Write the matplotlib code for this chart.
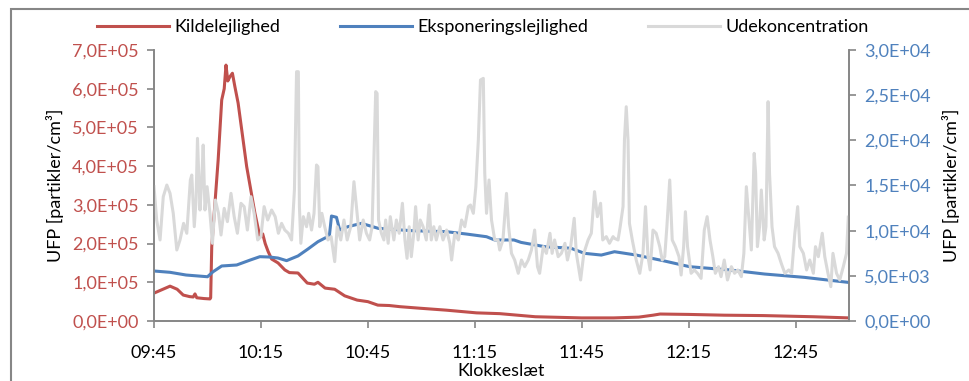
import matplotlib
matplotlib.use("Agg")
from matplotlib import pyplot as plt
from matplotlib.patches import Rectangle
from matplotlib.ticker import FuncFormatter

# minutes after 09:45
red_t = [0, 2, 4.5, 6.5, 8.2, 10, 11, 11.5, 12, 14, 15.7, 15.9, 16.2, 18, 19, 19.7, 20.2, 20.7,
         21.3, 22, 22.7, 23.6, 26, 28.3, 29.7, 30.5, 31.2, 32, 33, 34.8, 36.7, 38, 40.4, 43, 45,
         46, 48, 50.7, 53.5, 57, 60, 62.8, 66, 69, 74.6, 82, 90.5, 97, 107, 120, 129, 136, 140,
         142, 150, 160, 171, 185, 195]
red_v = [72000, 80000, 90000, 82000, 67000, 63000, 62000, 70000, 60000, 58000, 57000, 60000,
         192000, 416000, 571000, 600000, 661000, 620000, 631000, 640000, 605000, 563000, 399000,
         279000, 218000, 225000, 200000, 180000, 160000, 150000, 132000, 125000, 124000, 98000,
         95000, 100000, 85000, 82000, 65000, 54000, 50000, 41000, 40000, 37000, 33000, 28000,
         21000, 19000, 11000, 8000, 8000, 10000, 15000, 18000, 17000, 15000, 14000, 11000, 8000]

blue_t = [0, 4.5, 9, 15, 16.6, 19, 23.2, 27, 29.7, 32.5, 34.8, 37.2, 40.4, 43.2, 46, 48, 49.2,
          49.8, 51.2, 52.1, 54.4, 58.2, 62.9, 72.2, 82, 87.6, 93.3, 95.6, 101, 103, 109.6, 117,
          120.8, 125.5, 129.2, 135.3, 142.8, 150.3, 161.5, 171.3, 182.5, 194.7]
blue_v = [5535, 5390, 5090, 4900, 5460, 6090, 6200, 6750, 7120, 7080, 6970, 6680, 7200, 7970,
          8780, 9190, 9400, 11620, 11480, 10070, 10440, 10810, 10260, 10000, 9890, 9630, 9330,
          8970, 8970, 8700, 8230, 8050, 7490, 7300, 7670, 7300, 6680, 6010, 5650, 5200, 4830, 4280]

grey_t = [0, 0.75, 1.7, 2.6, 3.6, 4.5, 5.4, 6.4, 7.3, 8.3, 9.2, 10.2, 10.6, 11.3, 11.8, 12.2,
          12.9, 13.4, 13.8, 14.3, 14.9, 15.7, 16.4, 17.2, 18.1, 18.8, 19.7, 20.6, 21.6, 22.5,
          23.4, 24.4, 25.3, 26.2, 27.2, 28.1, 29.1, 30.0, 30.9, 31.9, 33, 34, 34.9, 35.8, 36.7,
          37.7, 38.6, 39.4, 40, 40.5, 40.8, 41.2, 41.9, 42.8, 43.4, 44.2, 44.9, 45.6, 46, 46.5,
          47.1, 47.9, 48.8, 49.7, 50.7, 51.4, 52.4, 53.3, 54.2, 55.2, 56.1, 56.8, 57.7, 58.7,
          59.6, 60.5, 61.2, 62.2, 62.6, 63, 63.8, 64.5, 65.0, 65.7, 66.3, 67.3, 68, 68.8, 69.7,
          70.4, 71, 71.6, 72.2, 72.9, 73.4, 74.1, 74.7, 75.5, 76.4, 77.2, 77.8, 78.5, 79.2, 80.2,
          81.1, 82.1, 83, 83.5, 84.4, 85.4, 86.3, 87.2, 88.2, 88.8, 89.6, 90.3, 91, 91.6, 92.4,
          92.8, 93.3, 94, 94.7, 95.6, 96.5, 97, 97.9, 98.9, 99.5, 100.3, 101.2, 102.2, 103.1,
          104, 105, 105.9, 106.8, 107.6, 108.2, 109.2, 110.1, 111.1, 111.7, 112.4, 113.4, 114.3,
          115.3, 116, 116.9, 117.9, 118.5, 119.7, 120.6, 121.8, 122.7, 123.6, 124.4, 125.3,
          125.9, 126.9, 127.8, 128.8, 129.2, 130.2, 130.8, 131.6, 132, 132.5, 133, 133.4, 134.2,
          135.3, 136.3, 137.2, 137.9, 138.6, 139.2, 140, 140.9, 141.9, 142.6, 143.3, 143.9,
          144.7, 145.4, 146.3, 147.3, 147.9, 148.6, 149.1, 149.7, 150.7, 151.6, 152.5, 153.5,
          154.4, 155.2, 156, 156.8, 157.5, 158.4, 159.1, 160, 160.9, 162, 162.9, 163.8, 164.8,
          165.5, 166.2, 166.8, 167.6, 168.4, 168.8, 169.3, 169.9, 170.4, 171.2, 171.7, 172.3,
          172.7, 173.4, 174.1, 175.1, 176, 177, 178.1, 178.9, 179.8, 180.6, 181.2, 182.2, 183.1,
          184, 185, 185.6, 186.4, 187.5, 188.2, 189.1, 189.9, 190.5, 191.5, 192.4, 193.4, 194.3,
          194.8]
grey_v = [14870, 11180, 8970, 13760, 15050, 14130, 11920, 7860, 8970, 10810, 9710, 15610, 16160,
          10440, 13390, 20220, 12290, 15610, 19480, 12290, 14870, 11920, 8600, 13390, 11920, 9520,
          12470, 11000, 14130, 11550, 9710, 13030, 12660, 10070, 13760, 11920, 8970, 9340, 12660,
          11180, 12290, 11550, 9710, 10810, 10070, 9710, 8970, 14500, 27600, 27600, 12660, 8600,
          11550, 10440, 11920, 10070, 11920, 17270, 17080, 10440, 11920, 10440, 8970, 9340, 6570,
          10440, 8970, 11180, 8970, 10440, 15420, 12660, 8970, 11180, 9710, 8970, 10440, 25390,
          25200, 11180, 9710, 8970, 11180, 8600, 11550, 8970, 11180, 9710, 13030, 8970, 6940,
          10440, 7120, 9710, 12660, 8970, 11180, 10440, 8970, 12840, 8970, 10440, 8970, 10440,
          8970, 10070, 8600, 6750, 9710, 8970, 11180, 10440, 12660, 12840, 11920, 14870, 20040,
          26680, 26860, 16350, 11920, 15610, 11180, 8970, 9000, 7860, 8970, 14130, 10440, 7490,
          6750, 5280, 6750, 6010, 6750, 7860, 10070, 6010, 5280, 8230, 7490, 9710, 7490, 8970,
          7120, 7490, 8600, 6750, 8230, 11370, 7490, 4540, 7490, 8970, 9710, 14320, 11550, 13030,
          8970, 9340, 8600, 9340, 9150, 8970, 10440, 12660, 20040, 23720, 20040, 10810, 8970,
          6750, 5280, 7490, 12660, 7120, 5650, 10070, 9710, 8230, 6750, 7120, 10440, 15610, 8970,
          8230, 7120, 5090, 8230, 12100, 8230, 5280, 5650, 5280, 4720, 10070, 11550, 8970, 7120,
          5280, 6010, 4910, 6750, 4540, 6010, 5280, 5650, 4910, 7490, 14870, 11920, 7860, 18560,
          16350, 8230, 10440, 14500, 8970, 10440, 24280, 16350, 10440, 8230, 7490, 6380, 5280,
          5650, 5280, 9710, 12660, 8230, 7490, 5650, 6750, 5280, 8230, 7120, 9710, 7120, 5280,
          3800, 7490, 5280, 4540, 6010, 7490, 11500]

tick_pos = [0, 30, 60, 90, 120, 150, 180]
tick_lab = ["09:45", "10:15", "10:45", "11:15", "11:45", "12:15", "12:45"]
left_ticks = [0, 1e5, 2e5, 3e5, 4e5, 5e5, 6e5, 7e5]
right_ticks = [0, 5e3, 1e4, 1.5e4, 2e4, 2.5e4, 3e4]

RED = "#C0504D"
BLUE = "#4F81BD"
GREY = "#D9D9D9"
AXC = "#868686"

plt.rcParams['font.family'] = ['Lato', 'DejaVu Sans']
plt.rcParams['font.size'] = 13

fig = plt.figure(figsize=(9.69, 3.81), dpi=100)
ax = fig.add_axes([154/969, 1 - 321/381, (849-154)/969, (321-50)/381])
ax2 = ax.twinx()

def sci(v, pos):
    return ("%.1E" % v).replace(".", ",")

l1, = ax.plot(red_t, red_v, color=RED, lw=2.2, label="Kildelejlighed")
l2, = ax2.plot(blue_t, blue_v, color=BLUE, lw=2.2, label="Eksponeringslejlighed")
l3, = ax2.plot(grey_t, grey_v, color=GREY, lw=2.2, label="Udekoncentration")

ax.set_xlim(0, 195)
ax.set_ylim(0, 7e5)
ax2.set_ylim(0, 3e4)
ax.set_xticks(tick_pos)
ax.set_xticklabels(tick_lab)
ax.set_yticks(left_ticks)
ax2.set_yticks(right_ticks)
ax.yaxis.set_major_formatter(FuncFormatter(sci))
ax2.yaxis.set_major_formatter(FuncFormatter(sci))

for a in (ax, ax2):
    a.spines['top'].set_visible(False)
    for s in ('left', 'right', 'bottom'):
        a.spines[s].set_color(AXC)
        a.spines[s].set_linewidth(1.2)
    a.tick_params(direction='out', length=5, width=1.2, color=AXC, pad=6)
ax.tick_params(axis='y', labelcolor=RED)
ax2.tick_params(axis='y', labelcolor=BLUE)
ax.tick_params(axis='x', pad=12)

ax.set_ylabel("UFP [partikler/cm³]", labelpad=6)
ax2.set_ylabel("UFP [partikler/cm³]", rotation=90, labelpad=8)
ax.set_xlabel("Klokkeslæt", labelpad=2)

fig.legend(handles=[l1, l2, l3], loc='center', bbox_to_anchor=(0.498, 1 - 27/381), ncol=3,
           frameon=False, handlelength=4, columnspacing=3.3, handletextpad=0.3)

fig.patches.append(Rectangle((11/969, -0.2), 2, 1.2 - 9/381, transform=fig.transFigure,
                             fill=False, edgecolor=AXC, lw=1.5, clip_on=False))

fig.savefig("out.png", dpi=100)
